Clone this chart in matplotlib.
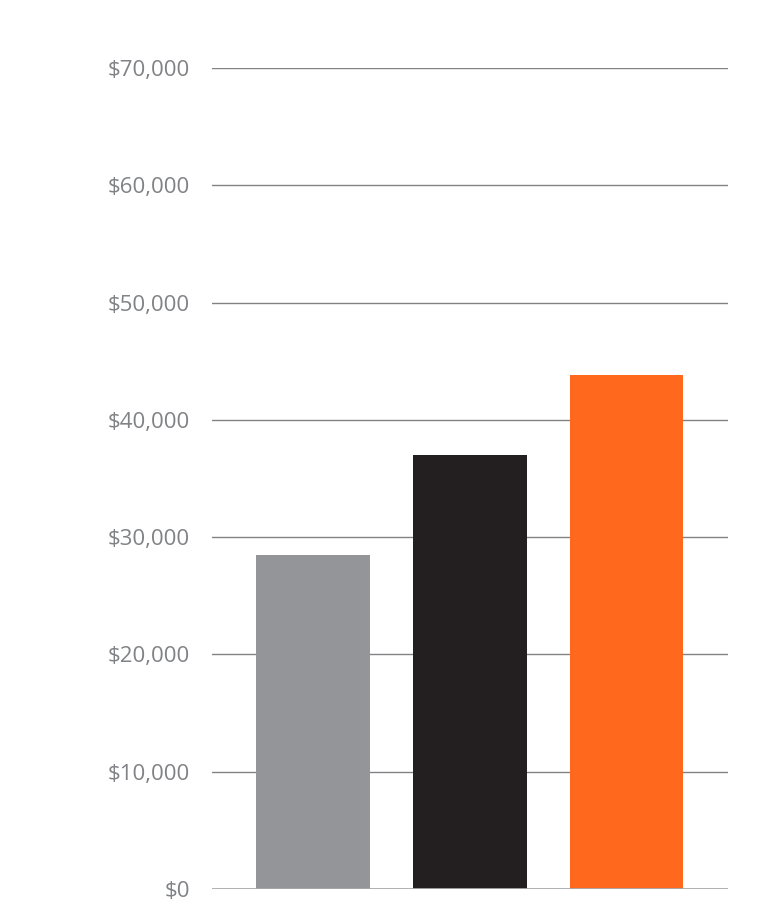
import matplotlib.pyplot as plt
from matplotlib.ticker import FuncFormatter

# data
categories = ["A", "B", "C"]
values = [28500, 37000, 43800]
barColors = ["#939598", "#231f20", "#ff681d"]
yTicks = [0, 10000, 20000, 30000, 40000, 50000, 60000, 70000]

plt.rc('font', family=['Open Sans', 'DejaVu Sans'])

fig = plt.figure(figsize=(7.65, 9.06), dpi=100)
ax = fig.add_axes([212/765, 1 - 889/906, 516/765, (889 - 68)/906])

x = range(len(categories))
ax.bar(x, values, width=0.727, color=barColors, zorder=3)

ax.set_xlim(-0.645, 2.648)
ax.set_ylim(0, 70000)
ax.set_yticks(yTicks)
ax.yaxis.set_major_formatter(FuncFormatter(lambda v, p: "${:,.0f}".format(v)))
ax.tick_params(axis='y', length=0, pad=16, labelsize=16, labelcolor="#808285")
ax.set_xticks([])

for t in yTicks:
    if t == 0:
        ax.axhline(t, color="#a7a9ac", lw=2.0, zorder=4)
    else:
        ax.axhline(t, color="#808285", lw=1.0, zorder=1)

for s in ax.spines.values():
    s.set_visible(False)

fig.savefig("out.png", dpi=100)
